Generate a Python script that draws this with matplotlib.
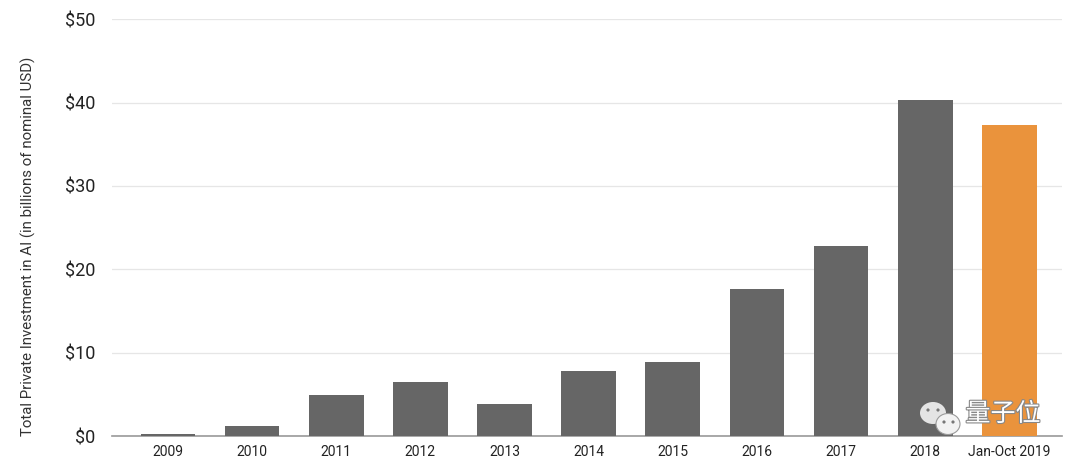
import matplotlib
matplotlib.use("Agg")
import matplotlib.pyplot as plt
from matplotlib.patches import Ellipse
import matplotlib.patheffects as pe

categories = ["2009", "2010", "2011", "2012", "2013", "2014", "2015", "2016", "2017", "2018", "Jan-Oct 2019"]
values = [0.3, 1.2, 4.9, 6.5, 3.8, 7.8, 8.9, 17.6, 22.8, 40.3, 37.3]
colors = ["#666666"] * 10 + ["#EA933C"]
yticks = [0, 10, 20, 30, 40, 50]
ytick_labels = ["$0", "$10", "$20", "$30", "$40", "$50"]

plt.rcParams['font.family'] = ['Roboto', 'Noto Sans CJK SC', 'DejaVu Sans']

W, H = 1080, 467
fig = plt.figure(figsize=(10.8, 4.67), dpi=100)
ax = fig.add_axes([0.104, 0.066, 0.879, 0.893])
x = list(range(len(categories)))
ax.bar(x, values, width=0.65, color=colors, zorder=3)
ax.set_xlim(-0.66, 10.62)
ax.set_ylim(0, 50)
ax.set_yticks(yticks)
ax.set_yticklabels(ytick_labels, fontsize=13, color="#222222")
ax.set_xticks(x)
ax.set_xticklabels(categories, fontsize=10, color="#222222")
ax.tick_params(axis='both', length=0)
ax.tick_params(axis='y', pad=12)
ax.tick_params(axis='x', pad=6)
ax.grid(axis='y', color="#e6e6e6", linewidth=0.9, zorder=0)
for s in ["top", "right", "left"]:
    ax.spines[s].set_visible(False)
ax.spines["bottom"].set_color("#999999")
ax.spines["bottom"].set_linewidth(1.2)
ax.set_ylabel("Total Private Investment in AI (in billions of nominal USD)", fontsize=10.8, color="#333333")
ax.yaxis.set_label_coords(-0.08, 0.455)

# watermark (WeChat-style bubbles + text)
def px_ellipse(cx, cy, rx, ry, **kw):
    return Ellipse((cx / W, 1 - cy / H), 2 * rx / W, 2 * ry / H, transform=fig.transFigure, **kw)

fig.patches.append(px_ellipse(933, 413, 13, 11, facecolor="#e4e4e4", edgecolor="none", zorder=10))
fig.patches.append(px_ellipse(948, 424, 12, 10.5, facecolor="#f2f2f2", edgecolor="#9a9a9a", linewidth=0.8, zorder=11))
for (cx, cy, c) in [(928, 410, "#777777"), (938, 410, "#777777"), (944, 422, "#777777"), (953, 422, "#777777")]:
    fig.patches.append(px_ellipse(cx, cy, 1.6, 1.6, facecolor=c, edgecolor="none", zorder=12))
fig.text(1003 / W, 1 - 414 / H, "量子位", fontsize=18, color="white", ha="center", va="center",
         path_effects=[pe.withStroke(linewidth=1.6, foreground="#888888")], zorder=13)

fig.savefig("out.png", dpi=100)
